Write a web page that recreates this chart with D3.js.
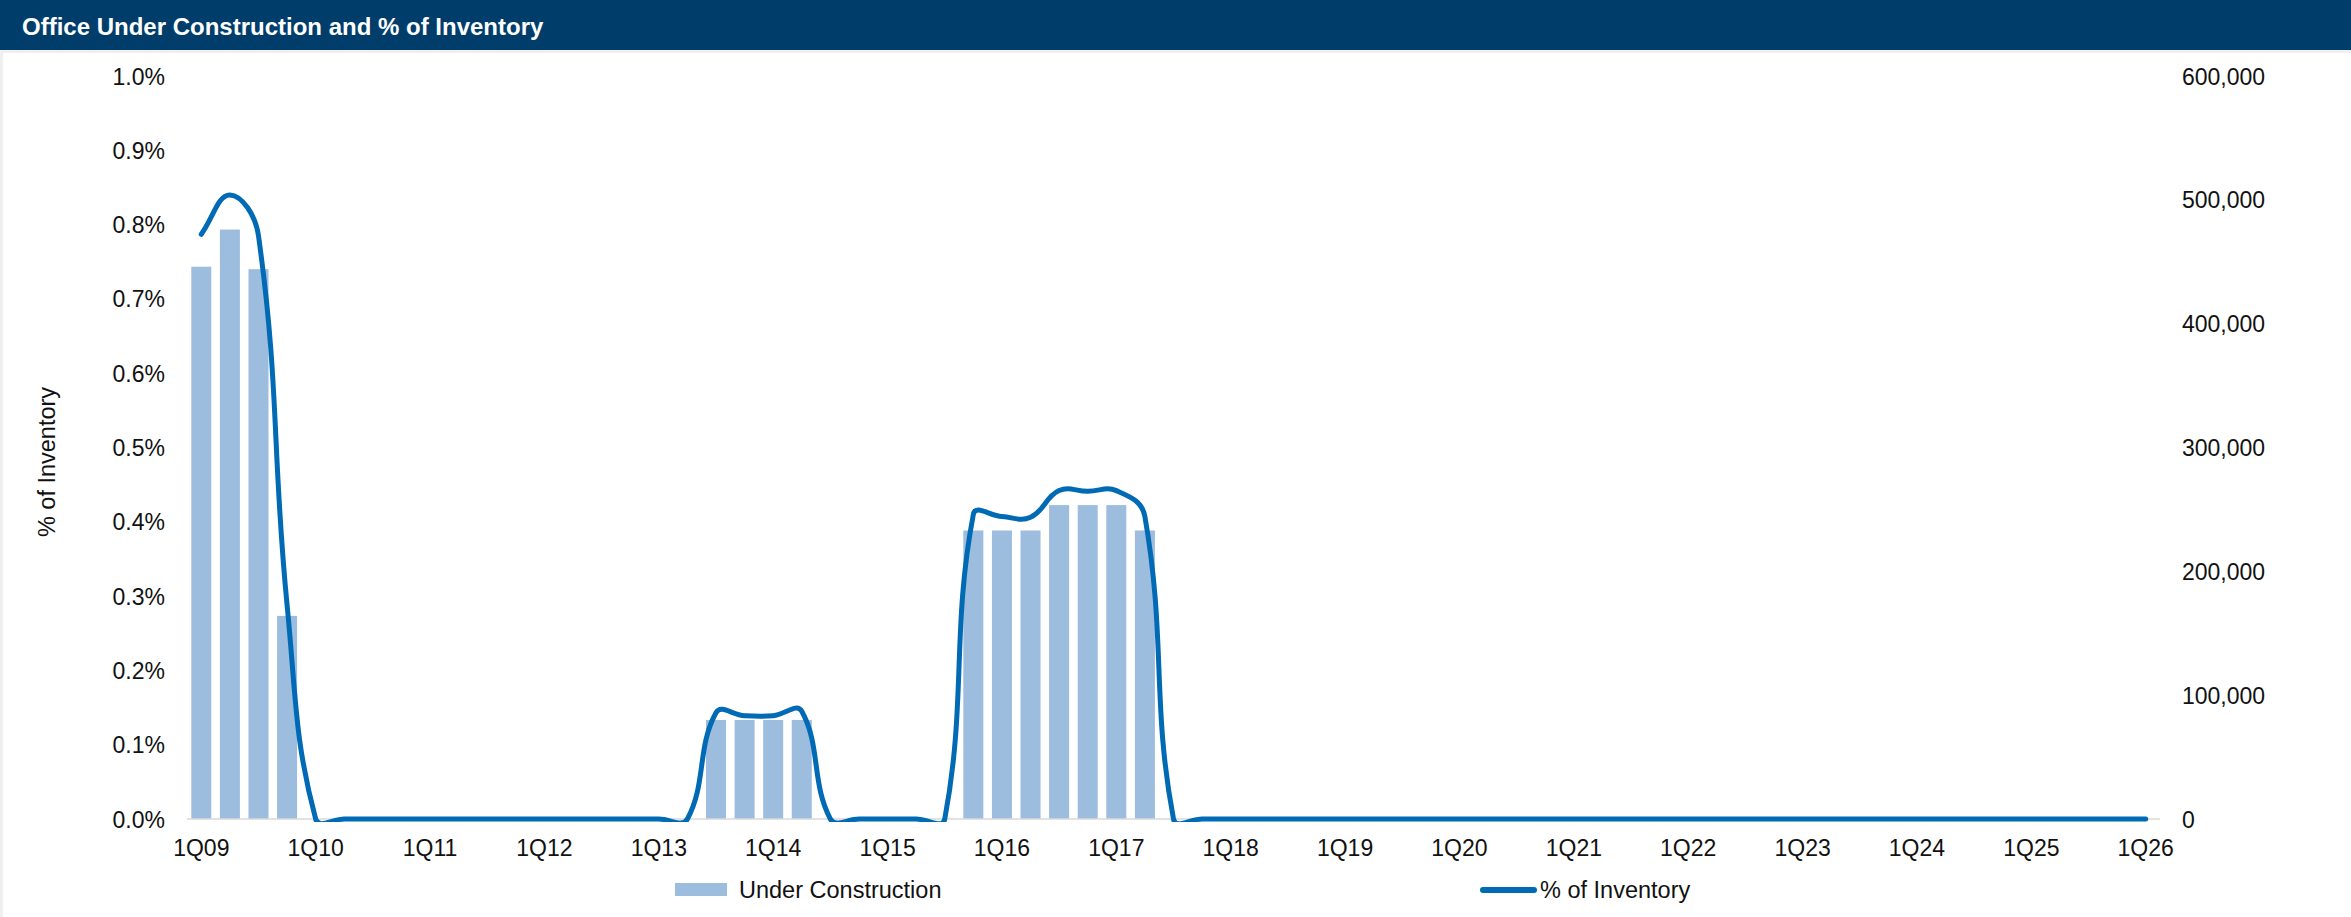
<!DOCTYPE html>
<html>
<head>
<meta charset="utf-8">
<script src="https://cdn.jsdelivr.net/npm/d3@7"></script>
<style>
  html, body { margin: 0; padding: 0; background: #ffffff; }
  svg { display: block; }
  text { font-family: "Liberation Sans", Arial, sans-serif; fill: #111; }
</style>
</head>
<body>
<svg id="chart" width="2351" height="917"></svg>
<script>
// Quarterly categories
const quarters = [
  "1Q09","2Q09","3Q09","4Q09",
  "1Q10","2Q10","3Q10","4Q10",
  "1Q11","2Q11","3Q11","4Q11",
  "1Q12","2Q12","3Q12","4Q12",
  "1Q13","2Q13","3Q13","4Q13",
  "1Q14","2Q14","3Q14","4Q14",
  "1Q15","2Q15","3Q15","4Q15",
  "1Q16","2Q16","3Q16","4Q16",
  "1Q17","2Q17","3Q17","4Q17",
  "1Q18","2Q18","3Q18","4Q18",
  "1Q19","2Q19","3Q19","4Q19",
  "1Q20","2Q20","3Q20","4Q20",
  "1Q21","2Q21","3Q21","4Q21",
  "1Q22","2Q22","3Q22","4Q22",
  "1Q23","2Q23","3Q23","4Q23",
  "1Q24","2Q24","3Q24","4Q24",
  "1Q25","2Q25","3Q25","4Q25",
  "1Q26"
];

// Office space under construction (sq ft)
const underConstruction = [
  446000, 476000, 444000, 164000,
  0, 0, 0, 0,
  0, 0, 0, 0,
  0, 0, 0, 0,
  0, 0, 80000, 80000,
  80000, 80000, 0, 0,
  0, 0, 0, 233000,
  233000, 233000, 253500, 253500,
  253500, 233000, 0, 0,
  0, 0, 0, 0,
  0, 0, 0, 0,
  0, 0, 0, 0,
  0, 0, 0, 0,
  0, 0, 0, 0,
  0, 0, 0, 0,
  0, 0, 0, 0,
  0, 0, 0, 0,
  0
];

// Under construction as % of total inventory
const pctInventory = [
  0.787, 0.840, 0.785, 0.288,
  0, 0, 0, 0,
  0, 0, 0, 0,
  0, 0, 0, 0,
  0, 0, 0.143, 0.139,
  0.139, 0.145, 0, 0,
  0, 0, 0, 0.410,
  0.407, 0.406, 0.442, 0.441,
  0.442, 0.407, 0, 0,
  0, 0, 0, 0,
  0, 0, 0, 0,
  0, 0, 0, 0,
  0, 0, 0, 0,
  0, 0, 0, 0,
  0, 0, 0, 0,
  0, 0, 0, 0,
  0, 0, 0, 0,
  0
];

// Axis ticks
const pctTicks = [0, 0.1, 0.2, 0.3, 0.4, 0.5, 0.6, 0.7, 0.8, 0.9, 1.0];
const sfTicks = [0, 100000, 200000, 300000, 400000, 500000, 600000];
const xTickLabels = quarters.filter(q => q.startsWith("1Q"));

const title = "Office Under Construction and % of Inventory";
const seriesNames = ["Under Construction", "% of Inventory"];

const barColor = "#9dbddf";
const lineColor = "#006ab5";

const svg = d3.select("#chart");
const W = 2351, H = 917;
const plot = { left: 187, right: 2160, top: 76, bottom: 819 };

// Frame and title bar
svg.append("rect").attr("x", 0).attr("y", 0).attr("width", W).attr("height", H).attr("fill", "#ffffff");
svg.append("rect").attr("x", 0).attr("y", 50).attr("width", W).attr("height", 3).attr("fill", "#f0f0f0");
svg.append("rect").attr("x", 0).attr("y", 50).attr("width", 3).attr("height", H - 50).attr("fill", "#f0f0f0");
svg.append("rect").attr("x", 0).attr("y", 0).attr("width", W).attr("height", 50).attr("fill", "#003d6b");
svg.append("text")
  .attr("x", 22).attr("y", 35)
  .style("font-size", "24px").style("font-weight", "bold").style("fill", "#ffffff")
  .text(title);

// Scales
const x = d3.scaleBand()
  .domain(quarters)
  .range([plot.left, plot.right])
  .paddingInner(0.3)
  .paddingOuter(0.15);

const yPct = d3.scaleLinear().domain([0, 1.0]).range([plot.bottom, plot.top]);
const ySf = d3.scaleLinear().domain([0, 600000]).range([plot.bottom, plot.top]);

// Left axis (% of inventory)
const leftAxis = svg.append("g")
  .attr("transform", `translate(165,0)`)
  .call(d3.axisLeft(yPct).tickValues(pctTicks).tickFormat(d => d3.format(".1f")(d) + "%").tickSize(0).tickPadding(0));
leftAxis.select(".domain").remove();
leftAxis.selectAll("text")
  .style("font-size", "23px").style("fill", "#111")
  .attr("dy", "0.35em");

// Right axis (square feet)
const rightAxis = svg.append("g")
  .attr("transform", `translate(2182,0)`)
  .call(d3.axisRight(ySf).tickValues(sfTicks).tickFormat(d3.format(",")).tickSize(0).tickPadding(0));
rightAxis.select(".domain").remove();
rightAxis.selectAll("text")
  .style("font-size", "23px").style("fill", "#111")
  .attr("dy", "0.35em");

// Left axis title
svg.append("text")
  .attr("transform", "translate(55,462) rotate(-90)")
  .attr("text-anchor", "middle")
  .style("font-size", "23.5px")
  .text("% of Inventory");

// Bars
svg.append("g").selectAll("rect")
  .data(quarters)
  .join("rect")
  .attr("x", d => x(d))
  .attr("width", x.bandwidth())
  .attr("y", (d, i) => ySf(underConstruction[i]))
  .attr("height", (d, i) => ySf(0) - ySf(underConstruction[i]))
  .attr("fill", barColor);

// Category axis
svg.append("line")
  .attr("x1", plot.left).attr("x2", plot.right)
  .attr("y1", plot.bottom).attr("y2", plot.bottom)
  .attr("stroke", "#d9d9d9").attr("stroke-width", 1.5);

const bottomAxis = svg.append("g")
  .attr("transform", `translate(0,${plot.bottom})`)
  .call(d3.axisBottom(x).tickValues(xTickLabels).tickSize(0).tickPadding(0));
bottomAxis.select(".domain").remove();
bottomAxis.selectAll("text")
  .style("font-size", "23px").style("fill", "#111")
  .attr("y", 37).attr("dy", 0);

// Smoothed line: cubic Bezier segments whose control points follow the
// neighbouring chord directions, weighted by adjacent segment lengths.
function smoothPath(pts, tension) {
  const p = d3.path();
  const n = pts.length;
  const dist = (a, b) => Math.hypot(b[0] - a[0], b[1] - a[1]);
  p.moveTo(pts[0][0], pts[0][1]);
  for (let i = 0; i < n - 1; i++) {
    const p0 = pts[Math.max(i - 1, 0)];
    const p1 = pts[i];
    const p2 = pts[i + 1];
    const p3 = pts[Math.min(i + 2, n - 1)];
    const d01 = dist(p0, p1), d12 = dist(p1, p2), d23 = dist(p2, p3);
    const fa = (d01 + d12) > 0 ? tension * d12 / (d01 + d12) : 0;
    const fb = (d12 + d23) > 0 ? tension * d12 / (d12 + d23) : 0;
    const c1 = [p1[0] + fa * (p2[0] - p0[0]), p1[1] + fa * (p2[1] - p0[1])];
    const c2 = [p2[0] - fb * (p3[0] - p1[0]), p2[1] - fb * (p3[1] - p1[1])];
    p.bezierCurveTo(c1[0], c1[1], c2[0], c2[1], p2[0], p2[1]);
  }
  return p.toString();
}

svg.append("clipPath").attr("id", "plotClip")
  .append("rect")
  .attr("x", plot.left - 10).attr("y", 0)
  .attr("width", plot.right - plot.left + 20).attr("height", plot.bottom + 3);

const linePts = pctInventory.map((v, i) => [x(quarters[i]) + x.bandwidth() / 2, yPct(v)]);

svg.append("path")
  .attr("clip-path", "url(#plotClip)")
  .attr("d", smoothPath(linePts, 0.42))
  .attr("fill", "none")
  .attr("stroke", lineColor)
  .attr("stroke-width", 5)
  .attr("stroke-linecap", "round")
  .attr("stroke-linejoin", "round");

// Legend
const legend = svg.append("g");
legend.append("rect")
  .attr("x", 675).attr("y", 883).attr("width", 52).attr("height", 13)
  .attr("fill", barColor);
legend.append("text")
  .attr("x", 739).attr("y", 898)
  .style("font-size", "23.5px")
  .text(seriesNames[0]);
legend.append("line")
  .attr("x1", 1483).attr("x2", 1534).attr("y1", 890).attr("y2", 890)
  .attr("stroke", lineColor).attr("stroke-width", 6).attr("stroke-linecap", "round");
legend.append("text")
  .attr("x", 1540).attr("y", 898)
  .style("font-size", "23.5px")
  .text(seriesNames[1]);
</script>
</body>
</html>
